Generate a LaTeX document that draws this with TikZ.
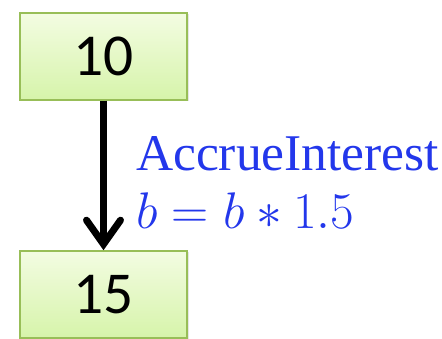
\documentclass[tikz,border=0pt]{standalone}
\usepackage{fix-cm}
\usepackage{fontspec}
\setmainfont{Liberation Serif}
\newfontfamily\boxfont[Scale=1.35]{Carlito}
\usepackage{tikz}
\usetikzlibrary{positioning}
\usetikzlibrary{arrows.meta}
\usetikzlibrary{shadows}
\definecolor{boxtop}{RGB}{243,252,226}
\definecolor{boxbot}{RGB}{214,244,170}
\definecolor{boxline}{RGB}{152,190,88}
\definecolor{lblblue}{RGB}{35,55,235}
\tikzset{>=stealth}
\tikzset{state/.style={draw=boxline, line width=1.5pt, top color=boxtop, bottom color=boxbot,
  minimum width=167pt, minimum height=87pt, inner sep=0pt,
  font=\fontsize{44}{50}\selectfont\boxfont,
  drop shadow={opacity=0.2, shadow xshift=1.5pt, shadow yshift=-1.5pt}}}
\tikzset{flow/.style={line width=7pt, -{Straight Barb[length=24pt, width=34pt, line cap=round]}}}
\tikzset{lbl/.style={text=lblblue, inner sep=0pt, align=left, font=\fontsize{51.5}{58}\selectfont}}

\begin{document}
\begin{tikzpicture}[x=1pt, y=-1pt]
\useasboundingbox (0, 0) rectangle (442, 339);
\node[state] (n10) at (103.5, 56.5) {10};
\node[state] (n15) at (103.5, 294.5) {15};
\draw[flow] (n10) -- node[lbl, right=29pt, yshift=-7pt] (act) {AccrueInterest\\$b = b \ast 1.5$} (n15);
\end{tikzpicture}
\end{document}
